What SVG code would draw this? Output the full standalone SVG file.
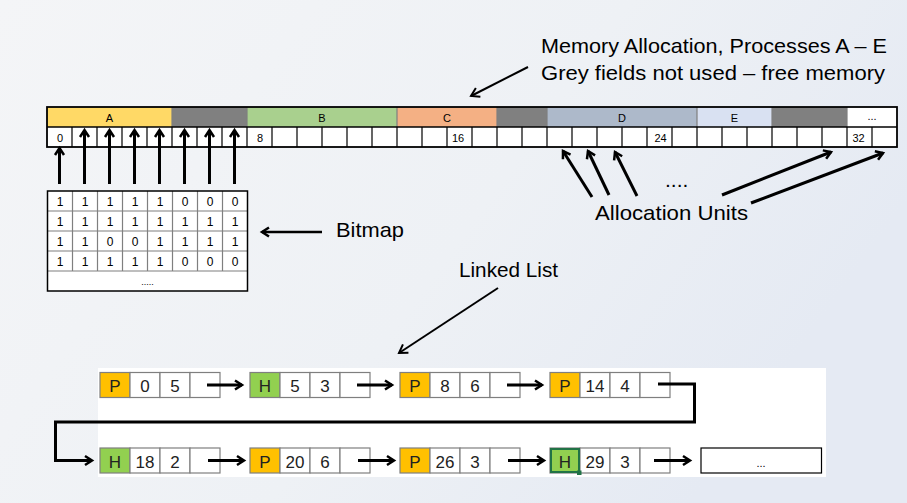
<svg xmlns="http://www.w3.org/2000/svg" width="907" height="503" viewBox="0 0 907 503">
<defs>
<linearGradient id="bg" x1="0" y1="0" x2="1" y2="0.4">
<stop offset="0" stop-color="#F4F5F7"/>
<stop offset="0.6" stop-color="#EEF1F5"/>
<stop offset="1" stop-color="#E5EAF3"/>
</linearGradient>
<marker id="ah" markerUnits="userSpaceOnUse" markerWidth="20" markerHeight="20" refX="0" refY="0" viewBox="-10 -10 20 20" orient="auto" overflow="visible">
<path d="M-7,-4.5 L0,0 L-7,4.5" fill="none" stroke="#000" stroke-width="2.5" stroke-linejoin="miter"/>
</marker>
<marker id="ahs" markerUnits="userSpaceOnUse" markerWidth="20" markerHeight="20" refX="0" refY="0" viewBox="-10 -10 20 20" orient="auto" overflow="visible">
<path d="M-8,-5 L0,0 L-8,5" fill="none" stroke="#000" stroke-width="2" stroke-linejoin="miter"/>
</marker>
</defs>
<style>
text{font-family:"Liberation Sans",Arial,sans-serif;fill:#000}
.lbl{font-size:21px}
.sm{font-size:11px;text-anchor:middle}
.bit{font-size:12px;text-anchor:middle;fill:#222}
.ll{font-size:17px;text-anchor:middle;fill:#222}
.cell{fill:#fff;stroke:#7f7f7f;stroke-width:1.2}
.gl{stroke:#7f7f7f;stroke-width:1.2}
.bl{stroke:#000;stroke-width:1.2}
.ar{fill:none;stroke:#000;stroke-width:3;marker-end:url(#ah)}
.ars{fill:none;stroke:#000;stroke-width:2;marker-end:url(#ahs)}
.P{fill:#FFC000;stroke:#7f7f7f;stroke-width:1.2}
.H{fill:#92D050;stroke:#7f7f7f;stroke-width:1.2}
</style>
<rect x="0" y="0" width="907" height="503" fill="url(#bg)"/>
<rect x="98" y="368" width="728" height="109" fill="#fff"/>

<g id="title">
<text class="lbl" x="541" y="53" textLength="346" lengthAdjust="spacingAndGlyphs">Memory Allocation, Processes A – E</text>
<text class="lbl" x="541" y="80" textLength="344" lengthAdjust="spacingAndGlyphs">Grey fields not used – free memory</text>
</g>

<g id="memory-strip">
<rect x="47" y="107" width="125" height="20" fill="#FFD966"/>
<rect x="172" y="107" width="75" height="20" fill="#808080"/>
<rect x="247" y="107" width="150" height="20" fill="#A9D08E"/>
<rect x="397" y="107" width="100" height="20" fill="#F4B084"/>
<rect x="497" y="107" width="50" height="20" fill="#808080"/>
<rect x="547" y="107" width="150" height="20" fill="#ADB9CA"/>
<rect x="697" y="107" width="75" height="20" fill="#D9E1F2"/>
<rect x="772" y="107" width="75" height="20" fill="#808080"/>
<rect x="847" y="107" width="50" height="20" fill="#fff"/>
<g class="gl">
<line x1="172" y1="107" x2="172" y2="127"/><line x1="247" y1="107" x2="247" y2="127"/>
<line x1="397" y1="107" x2="397" y2="127"/><line x1="497" y1="107" x2="497" y2="127"/>
<line x1="547" y1="107" x2="547" y2="127"/><line x1="697" y1="107" x2="697" y2="127"/>
<line x1="772" y1="107" x2="772" y2="127"/><line x1="847" y1="107" x2="847" y2="127"/>
</g>
<rect x="47" y="127" width="850" height="20" fill="#fff"/>
<path class="bl" fill="none" d="M72,127V147M97,127V147M122,127V147M147,127V147M172,127V147M197,127V147M222,127V147M247,127V147M272,127V147M297,127V147M322,127V147M347,127V147M372,127V147M397,127V147M422,127V147M447,127V147M472,127V147M497,127V147M522,127V147M547,127V147M572,127V147M597,127V147M622,127V147M647,127V147M672,127V147M697,127V147M722,127V147M747,127V147M772,127V147M797,127V147M822,127V147M847,127V147M872,127V147"/>
<line x1="47" y1="127" x2="897" y2="127" stroke="#000" stroke-width="1.5"/>
<rect x="47" y="107" width="850" height="40" fill="none" stroke="#000" stroke-width="1.8"/>
<text class="sm" x="109.5" y="121.5">A</text>
<text class="sm" x="322" y="121.5">B</text>
<text class="sm" x="447" y="121.5">C</text>
<text class="sm" x="622" y="121.5">D</text>
<text class="sm" x="734.5" y="121.5">E</text>
<text class="sm" x="872" y="120">...</text>
<text class="sm" x="60" y="141.5">0</text>
<text class="sm" x="260" y="141.5">8</text>
<text class="sm" x="458" y="141.5">16</text>
<text class="sm" x="660.5" y="141.5">24</text>
<text class="sm" x="858.5" y="141.5">32</text>
</g>

<g id="bitmap">
<rect x="47.5" y="191" width="200" height="100" fill="#fff"/>
<path class="gl" fill="none" d="M47.5,211H247.5M47.5,231H247.5M47.5,251H247.5M47.5,271H247.5M72.5,191V271M97.5,191V271M122.5,191V271M147.5,191V271M172.5,191V271M197.5,191V271M222.5,191V271"/>
<rect x="47.5" y="191" width="200" height="100" fill="none" stroke="#000" stroke-width="1.5"/>
<g class="bit">
<text x="60" y="205.5">1</text><text x="85" y="205.5">1</text><text x="110" y="205.5">1</text><text x="135" y="205.5">1</text><text x="160" y="205.5">1</text><text x="185" y="205.5">0</text><text x="210" y="205.5">0</text><text x="235" y="205.5">0</text>
<text x="60" y="225.5">1</text><text x="85" y="225.5">1</text><text x="110" y="225.5">1</text><text x="135" y="225.5">1</text><text x="160" y="225.5">1</text><text x="185" y="225.5">1</text><text x="210" y="225.5">1</text><text x="235" y="225.5">1</text>
<text x="60" y="245.5">1</text><text x="85" y="245.5">1</text><text x="110" y="245.5">0</text><text x="135" y="245.5">0</text><text x="160" y="245.5">1</text><text x="185" y="245.5">1</text><text x="210" y="245.5">1</text><text x="235" y="245.5">1</text>
<text x="60" y="265.5">1</text><text x="85" y="265.5">1</text><text x="110" y="265.5">1</text><text x="135" y="265.5">1</text><text x="160" y="265.5">1</text><text x="185" y="265.5">0</text><text x="210" y="265.5">0</text><text x="235" y="265.5">0</text>
<text x="147.5" y="285" style="font-size:9px">.....</text>
</g>
</g>

<g id="labels">
<text class="lbl" x="336" y="237" textLength="68" lengthAdjust="spacingAndGlyphs">Bitmap</text>
<text class="lbl" x="459" y="277" textLength="99" lengthAdjust="spacingAndGlyphs">Linked List</text>
<text class="lbl" x="595" y="220" textLength="153" lengthAdjust="spacingAndGlyphs">Allocation Units</text>
<text class="lbl" x="665" y="187">....</text>
</g>

<g id="ll-row1">
<g id="n1"><rect class="P" x="100" y="372.5" width="30" height="25"/><rect class="cell" x="130" y="372.5" width="30" height="25"/><rect class="cell" x="160" y="372.5" width="30" height="25"/><rect class="cell" x="190" y="372.5" width="30" height="25"/>
<text class="ll" x="115" y="392">P</text><text class="ll" x="145" y="392">0</text><text class="ll" x="175" y="392">5</text></g>
<g id="n2"><rect class="H" x="250" y="372.5" width="30" height="25"/><rect class="cell" x="280" y="372.5" width="30" height="25"/><rect class="cell" x="310" y="372.5" width="30" height="25"/><rect class="cell" x="340" y="372.5" width="30" height="25"/>
<text class="ll" x="265" y="392">H</text><text class="ll" x="295" y="392">5</text><text class="ll" x="325" y="392">3</text></g>
<g id="n3"><rect class="P" x="400" y="372.5" width="30" height="25"/><rect class="cell" x="430" y="372.5" width="30" height="25"/><rect class="cell" x="460" y="372.5" width="30" height="25"/><rect class="cell" x="490" y="372.5" width="30" height="25"/>
<text class="ll" x="415" y="392">P</text><text class="ll" x="445" y="392">8</text><text class="ll" x="475" y="392">6</text></g>
<g id="n4"><rect class="P" x="550" y="372.5" width="30" height="25"/><rect class="cell" x="580" y="372.5" width="30" height="25"/><rect class="cell" x="610" y="372.5" width="30" height="25"/><rect class="cell" x="640" y="372.5" width="30" height="25"/>
<text class="ll" x="565" y="392">P</text><text class="ll" x="595" y="392">14</text><text class="ll" x="625" y="392">4</text></g>
</g>

<g id="ll-row2">
<g id="n5"><rect class="H" x="100" y="448" width="30" height="25"/><rect class="cell" x="130" y="448" width="30" height="25"/><rect class="cell" x="160" y="448" width="30" height="25"/><rect class="cell" x="190" y="448" width="30" height="25"/>
<text class="ll" x="115" y="467.5">H</text><text class="ll" x="145" y="467.5">18</text><text class="ll" x="175" y="467.5">2</text></g>
<g id="n6"><rect class="P" x="250" y="448" width="30" height="25"/><rect class="cell" x="280" y="448" width="30" height="25"/><rect class="cell" x="310" y="448" width="30" height="25"/><rect class="cell" x="340" y="448" width="30" height="25"/>
<text class="ll" x="265" y="467.5">P</text><text class="ll" x="295" y="467.5">20</text><text class="ll" x="325" y="467.5">6</text></g>
<g id="n7"><rect class="P" x="400" y="448" width="30" height="25"/><rect class="cell" x="430" y="448" width="30" height="25"/><rect class="cell" x="460" y="448" width="30" height="25"/><rect class="cell" x="490" y="448" width="30" height="25"/>
<text class="ll" x="415" y="467.5">P</text><text class="ll" x="445" y="467.5">26</text><text class="ll" x="475" y="467.5">3</text></g>
<g id="n8"><rect class="H" x="550" y="448" width="30" height="25"/><rect class="cell" x="580" y="448" width="30" height="25"/><rect class="cell" x="610" y="448" width="30" height="25"/><rect class="cell" x="640" y="448" width="30" height="25"/>
<rect x="551" y="449" width="28" height="23" fill="none" stroke="#217346" stroke-width="2"/>
<rect x="577" y="470.5" width="4.5" height="4.5" fill="#217346"/>
<text class="ll" x="565" y="467.5">H</text><text class="ll" x="595" y="467.5">29</text><text class="ll" x="625" y="467.5">3</text></g>
<g id="n9"><rect x="701" y="448" width="120.5" height="25" fill="#fff" stroke="#000" stroke-width="1.2"/>
<text class="sm" x="761" y="467">...</text></g>
</g>

<g id="connectors">
<line class="ar" x1="59.5" y1="184" x2="59.5" y2="148"/>
<line class="ar" x1="84.5" y1="184" x2="84.5" y2="130"/>
<line class="ar" x1="109.5" y1="184" x2="109.5" y2="130"/>
<line class="ar" x1="134.5" y1="184" x2="134.5" y2="130"/>
<line class="ar" x1="159.5" y1="184" x2="159.5" y2="130"/>
<line class="ar" x1="184.5" y1="184" x2="184.5" y2="130"/>
<line class="ar" x1="209.5" y1="184" x2="209.5" y2="130"/>
<line class="ar" x1="234.5" y1="184" x2="234.5" y2="130"/>
<line class="ars" x1="528" y1="67" x2="471" y2="96"/>
<line class="ar" x1="322" y1="232" x2="262" y2="232" style="stroke-width:2.5"/>
<line class="ars" x1="498" y1="288" x2="399" y2="353"/>
<line class="ar" x1="592" y1="197" x2="563" y2="151"/>
<line class="ar" x1="609" y1="195" x2="588" y2="151"/>
<line class="ar" x1="637" y1="196" x2="615" y2="152"/>
<line class="ar" x1="722" y1="195" x2="831" y2="152"/>
<line class="ar" x1="751" y1="203" x2="883" y2="153"/>
<line class="ar" x1="207" y1="385" x2="242" y2="385"/>
<line class="ar" x1="357" y1="385" x2="392" y2="385"/>
<line class="ar" x1="507" y1="385" x2="542" y2="385"/>
<path class="ar" d="M658,384H694.5V422H55.5V460.5H92"/>
<line class="ar" x1="208" y1="460.5" x2="244" y2="460.5"/>
<line class="ar" x1="358" y1="460.5" x2="394" y2="460.5"/>
<line class="ar" x1="508" y1="460.5" x2="544" y2="460.5"/>
<line class="ar" x1="654" y1="460.5" x2="690" y2="460.5"/>
</g>
</svg>
